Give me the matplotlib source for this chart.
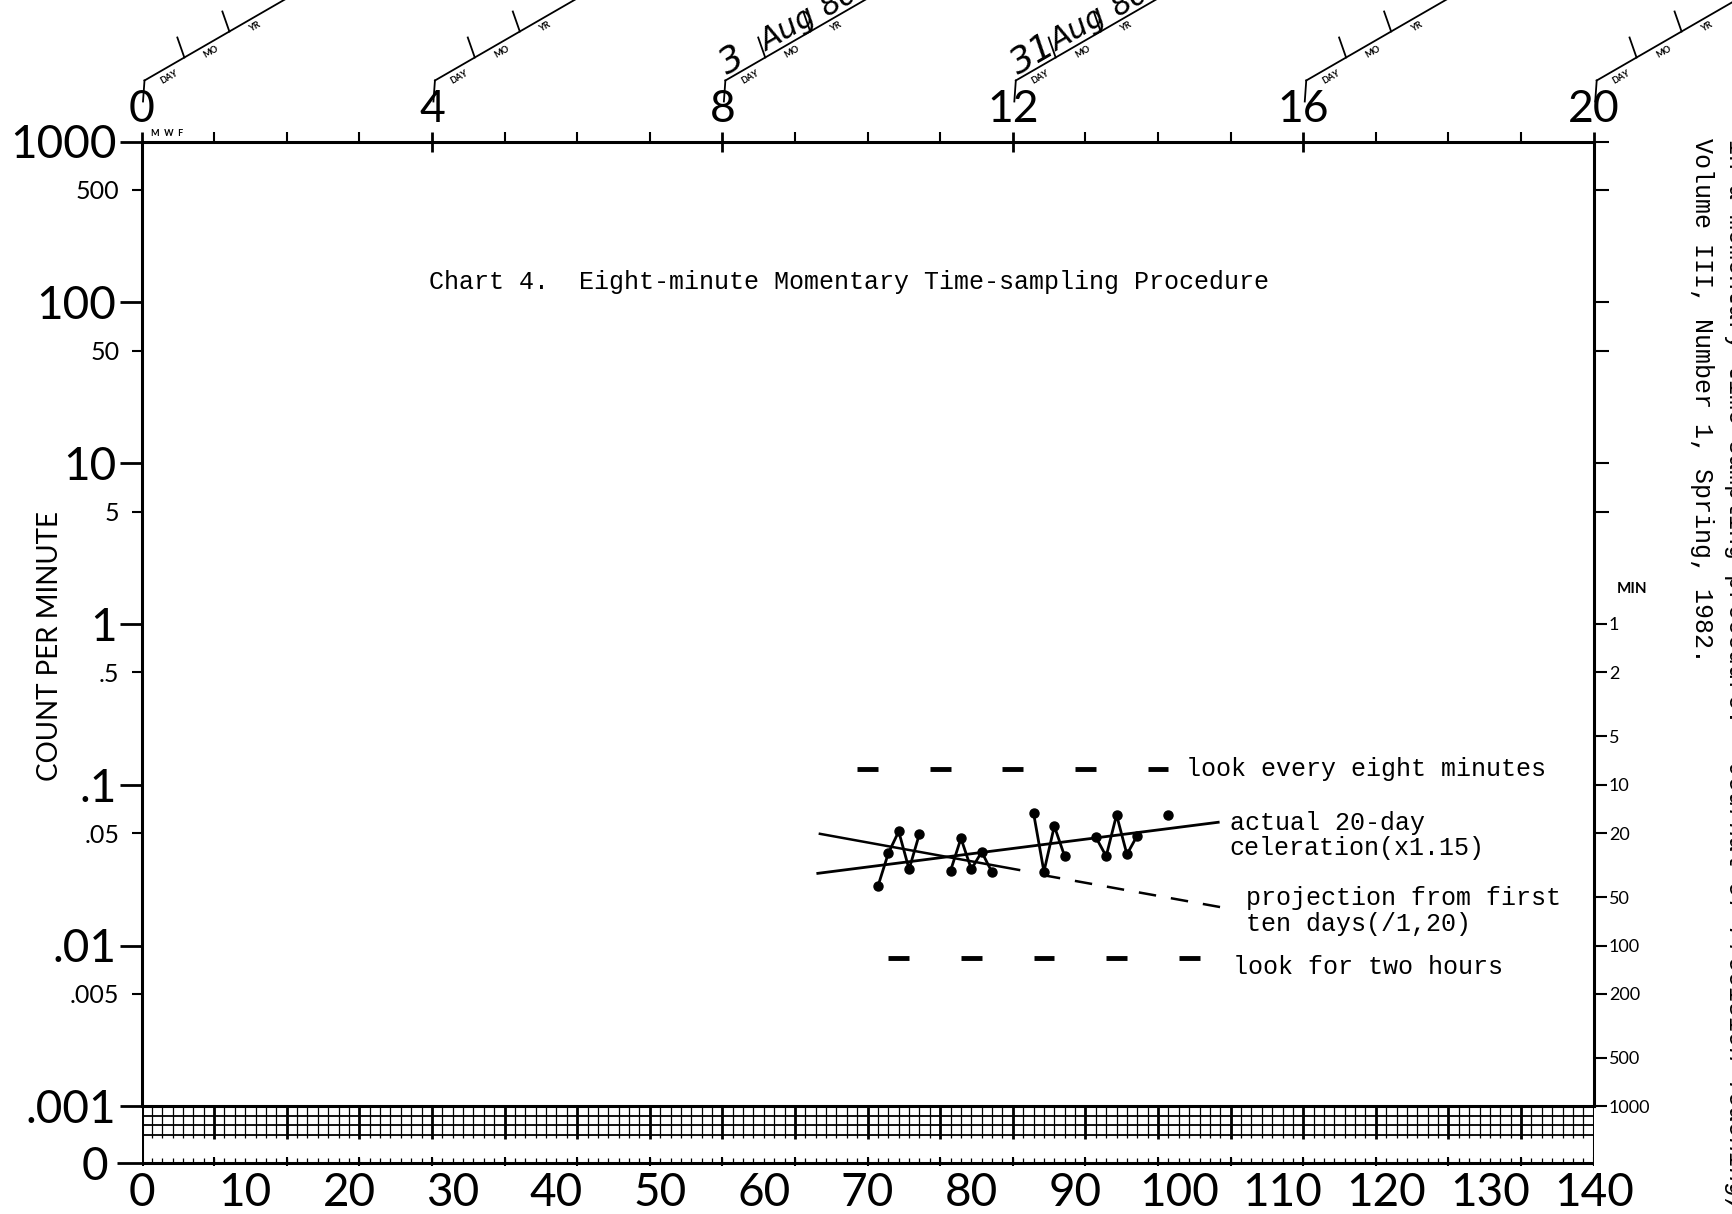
import numpy as np
import matplotlib.pyplot as plt
from matplotlib.lines import Line2D
from matplotlib.ticker import NullFormatter
from matplotlib.transforms import ScaledTranslation

plt.rcParams['font.family'] = ['Lato', 'DejaVu Sans']
MONO = 'Liberation Mono'

# values (count per minute on each day)
days = [71, 72, 73, 74, 75, 78, 79, 80, 81, 82, 86, 87, 88, 89, 92, 93, 94, 95, 96, 99]
counts = [0.0234, 0.0375, 0.0512, 0.0298, 0.0495, 0.0292, 0.0464, 0.0298, 0.0382, 0.0285,
          0.0665, 0.0288, 0.0552, 0.0359, 0.0472, 0.0359, 0.0649, 0.0369, 0.0483, 0.0649]

celeration_days = [65.2, 103.8]
celeration_rates = [0.0281, 0.0584]
projection_days = [65.4, 84.6]
projection_rates = [0.0495, 0.0295]
projection_dash_days = [86.9, 104.5]
projection_dash_rates = [0.0274, 0.0171]

look_eight_days = [70, 77, 84, 91, 98]
look_eight_rate = 1 / 8
look_two_hours_days = [73, 80, 87, 94, 101]
look_two_hours_rate = 1 / 120

left_major = [1000, 100, 10, 1, 0.1, 0.01, 0.001]
left_major_labels = ['1000', '100', '10', '1', '.1', '.01', '.001']
left_minor = [500, 50, 5, 0.5, 0.05, 0.005]
left_minor_labels = ['500', '50', '5', '.5', '.05', '.005']
record_minutes = [1, 2, 5, 10, 20, 50, 100, 200, 500, 1000]
week_labels = [0, 4, 8, 12, 16, 20]
day_labels = list(range(0, 141, 10))
dates = {56: ['3', 'Aug', '80'], 84: ['31', 'Aug', '80']}

FW, FH = 1733, 1214
fig = plt.figure(figsize=(FW / 100, FH / 100), dpi=100)


def frac(x0, y0, x1, y1):
    # pixel box measured from the top-left corner -> figure fraction
    return [x0 / FW, 1 - y1 / FH, (x1 - x0) / FW, (y1 - y0) / FH]


ax = fig.add_axes(frac(141.5, 141.5, 1593.7, 1106.3))
ax.set_yscale('log')
ax.set_xlim(0, 140)
ax.set_ylim(0.001, 1000)
for s in ax.spines.values():
    s.set_linewidth(2.2)

ax.set_yticks(left_major, left_major_labels)
ax.set_yticks(left_minor, left_minor_labels, minor=True)
ax.tick_params(axis='y', which='major', length=16, width=2, labelsize=33, pad=2)
ax.tick_params(axis='y', which='minor', length=7, width=1.5, labelsize=18, pad=9)

ax.xaxis.tick_top()
ax.set_xticks(np.arange(0, 141, 28), [str(w) for w in week_labels])
ax.set_xticks(np.arange(0, 141, 7), minor=True)
ax.tick_params(axis='x', which='major', length=14, width=2, direction='inout',
               labelsize=32, pad=1)
ax.tick_params(axis='x', which='minor', length=7, width=1.5, direction='out')

# right-hand "MIN" scale
ax_r = ax.twinx()
ax_r.set_yscale('log')
ax_r.set_ylim(0.001, 1000)
for s in ax_r.spines.values():
    s.set_visible(False)
ax_r.set_yticks([1 / m for m in record_minutes], [str(m) for m in record_minutes])
ax_r.set_yticks([1000, 500, 100, 50, 10, 5], minor=True)
ax_r.yaxis.set_minor_formatter(NullFormatter())
ax_r.tick_params(axis='y', which='major', length=9, width=1.5, labelsize=13, pad=2)
ax_r.tick_params(axis='y', which='minor', length=11, width=1.5)
fig.text(1632 / FW, 1 - 589 / FH, 'MIN', ha='center', va='center', size=11, weight='bold')

# grid band and zero line under the chart
ax_b = fig.add_axes(frac(141.5, 1106.3, 1593.7, 1166))
ax_b.set_xlim(0, 140)
ax_b.set_ylim(0, 59.7)
ax_b.patch.set_visible(False)
for s in ax_b.spines.values():
    s.set_visible(False)
zero_y = 3.3
band_rows = [50.1, 40.6, 31.0]
all_days = np.arange(0, 141)
ax_b.hlines(band_rows, 0, 140, color='k', lw=1.3)
ax_b.vlines(all_days, 28, 59.7, color='k', lw=0.9)
ax_b.vlines(all_days[::7], 27, 59.7, color='k', lw=2)
ax_b.hlines(zero_y, 0, 140, color='k', lw=2.2)
ax_b.vlines(all_days, zero_y, zero_y + 5, color='k', lw=0.9)
ax_b.vlines(all_days[::7], zero_y - 3, zero_y + 6, color='k', lw=1.5)
ax_b.vlines([0, 140], zero_y - 4, 59.7, color='k', lw=2.2)
ax_b.set_xticks(day_labels, [str(d) for d in day_labels])
ax_b.tick_params(axis='x', length=0, labelsize=33, pad=4)
ax_b.set_yticks([zero_y], ['0'])
ax_b.tick_params(axis='y', length=18, width=2, labelsize=33, pad=6)

# data
d = np.array(days)
c = np.array(counts)
breaks = np.where(np.diff(d) > 1)[0] + 1
for seg_d, seg_c in zip(np.split(d, breaks), np.split(c, breaks)):
    ax.plot(seg_d, seg_c, '-o', color='k', lw=2, ms=6.5)

ax.plot(celeration_days, celeration_rates, color='k', lw=2)
ax.plot(projection_days, projection_rates, color='k', lw=1.8)
ax.plot(projection_dash_days, projection_dash_rates, color='k', lw=1.8, ls=(0, (7, 6)))

ld = np.array(look_eight_days)
ax.hlines([look_eight_rate] * len(ld), ld - 1, ld + 1, color='k', lw=3.5)
lt = np.array(look_two_hours_days)
ax.hlines([look_two_hours_rate] * len(lt), lt - 1, lt + 1, color='k', lw=3.5)

ax.text(100.7, look_eight_rate, 'look every eight minutes', family=MONO, size=18, va='center')
ax.text(104.9, 0.0483, 'actual 20-day\nceleration(x1.15)', family=MONO, size=18,
        va='center', linespacing=1.1)
ax.text(106.5, 0.0163, 'projection from first\nten days(/1,20)', family=MONO, size=18,
        va='center', linespacing=1.1)
ax.text(105.2, 0.0074, 'look for two hours', family=MONO, size=18, va='center')

ax.text(0.1979, 0.8545, 'Chart 4.  Eight-minute Momentary Time-sampling Procedure',
        transform=ax.transAxes, family=MONO, size=18, va='center')

fig.text(50 / FW, 1 - 646 / FH, 'COUNT PER MINUTE', rotation=90, ha='center',
         va='center', size=20)
fig.text(151 / FW, 1 - 133 / FH, 'M  W  F', size=6.5, weight='bold', va='center')

# calendar brackets above the week numbers
ang = np.deg2rad(30)
ux, uy = np.cos(ang), np.sin(ang)
nx, ny = -uy, ux
x0, y0 = 0.03, 0.61
for wk in week_labels:
    day = wk * 7
    tr = fig.dpi_scale_trans + ScaledTranslation(day, 1000, ax.transData)
    fig.add_artist(Line2D([0.015, x0], [0.40, y0], transform=tr, color='k', lw=1.3))
    fig.add_artist(Line2D([x0, x0 + 1.9 * ux], [y0, y0 + 1.9 * uy], transform=tr,
                          color='k', lw=1.3))
    for s in (0.46, 0.98):
        px, py = x0 + s * ux, y0 + s * uy
        fig.add_artist(Line2D([px, px - 0.07], [py, py + 0.2], transform=tr,
                              color='k', lw=1.3))
    for s, lab in ((0.23, 'DAY'), (0.72, 'MO'), (1.22, 'YR')):
        px, py = x0 + s * ux - 0.09 * nx, y0 + s * uy - 0.09 * ny
        fig.text(px, py, lab, transform=tr, rotation=30, ha='center', va='center',
                 size=6.5, weight='bold')
    if day in dates:
        for s, part, sz in zip((0.04, 0.5, 1.2), dates[day], (26, 22, 22)):
            px, py = x0 + s * ux + 0.04 * nx, y0 + s * uy + 0.04 * ny
            fig.text(px, py, part, transform=tr, rotation=30, rotation_mode='anchor',
                     ha='left', va='baseline', size=sz, style='italic',
                     family='DejaVu Sans')

# citation text running down the right edge
fig.text(1702 / FW, 1 - 138 / FH, 'Volume III, Number 1, Spring, 1982.', rotation=-90,
         ha='center', va='top', family=MONO, size=18)
fig.text(1736 / FW, 1 - 724 / FH, 'in a momentary time-sampling procedure.', rotation=-90,
         ha='center', va='bottom', family=MONO, size=18)
fig.text(1736 / FW, 1 - 762 / FH, 'Journal of Precision Teaching,', rotation=-90,
         ha='center', va='top', family=MONO, size=18, style='italic')

fig.savefig('out.png', dpi=100, facecolor='white')
